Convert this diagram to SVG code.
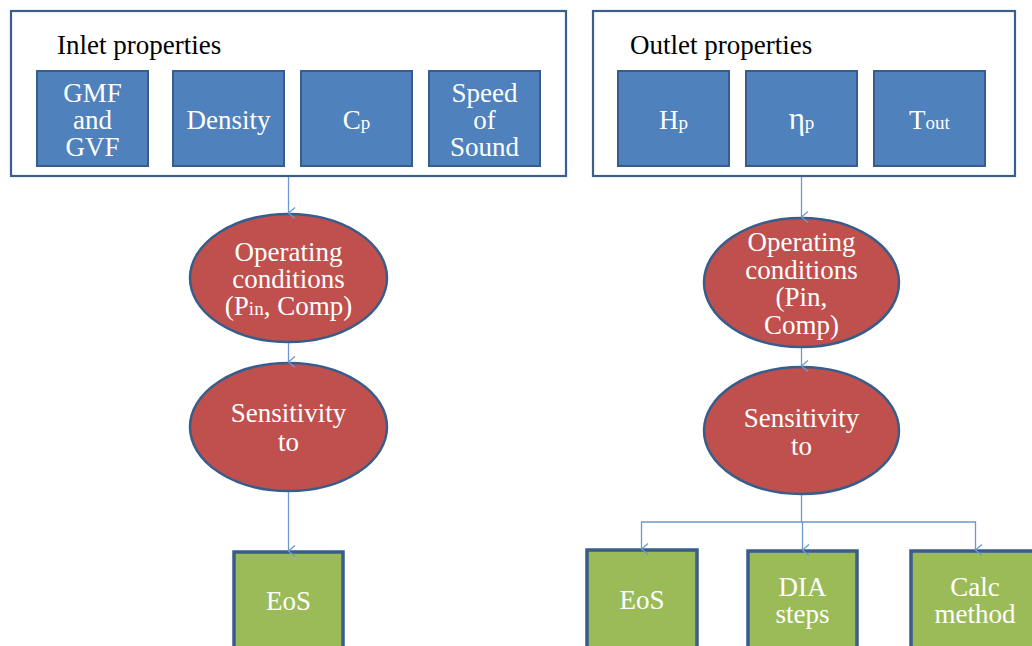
<svg xmlns="http://www.w3.org/2000/svg" width="1032" height="646" viewBox="0 0 1032 646">
<defs>
<marker id="arr" markerWidth="12" markerHeight="12" refX="6" refY="10" orient="auto" markerUnits="userSpaceOnUse" viewBox="0 0 12 12">
<polyline points="0.5,3.5 6,10 11.5,3.5" fill="none" stroke="#6E98CF" stroke-width="1.3"/>
</marker>
<style>
.cont{fill:#fff;stroke:#3A5F8D;stroke-width:2.2}
.blue{fill:#4F81BD;stroke:#385D8A;stroke-width:2}
.red{fill:#C0504D;stroke:#385D8A;stroke-width:2.5}
.green{fill:#9BBB59;stroke:#385D8A;stroke-width:3.5}
text{font-family:'Liberation Serif','Times New Roman',Tinos,'DejaVu Serif',serif}
.t{font-size:27px;fill:#fff;text-anchor:middle}
.h{font-size:27px;fill:#000}
.sub{font-size:19px}
.c{fill:none;stroke:#6E98CF;stroke-width:1.3}
</style>
</defs>
<rect width="1032" height="646" fill="#fff"/>

<g id="inlet">
<rect class="cont" x="11" y="11" width="555" height="165"/>
<text class="h" x="57" y="54">Inlet properties</text>
</g>
<g id="gmf"><rect class="blue" x="37" y="71" width="111" height="95"/>
<text class="t" x="92.5" y="102">GMF</text><text class="t" x="92.5" y="129">and</text><text class="t" x="92.5" y="156">GVF</text></g>
<g id="density"><rect class="blue" x="173" y="71" width="111" height="95"/>
<text class="t" x="228.5" y="129">Density</text></g>
<g id="cp"><rect class="blue" x="301" y="71" width="111" height="95"/>
<text class="t" x="356.5" y="129">C<tspan class="sub">p</tspan></text></g>
<g id="sos"><rect class="blue" x="429" y="71" width="111" height="95"/>
<text class="t" x="484.5" y="102">Speed</text><text class="t" x="484.5" y="129">of</text><text class="t" x="484.5" y="156">Sound</text></g>

<g id="outlet">
<rect class="cont" x="593" y="11" width="422" height="165"/>
<text class="h" x="630" y="54">Outlet properties</text>
</g>
<g id="hp"><rect class="blue" x="618" y="71" width="111" height="95"/>
<text class="t" x="673.5" y="129">H<tspan class="sub">p</tspan></text></g>
<g id="etap"><rect class="blue" x="746" y="71" width="111" height="95"/>
<text class="t" x="801.5" y="129"><tspan font-size="31">η</tspan><tspan class="sub">p</tspan></text></g>
<g id="tout"><rect class="blue" x="874" y="71" width="111" height="95"/>
<text class="t" x="929.5" y="129">T<tspan class="sub">out</tspan></text></g>

<g id="op1"><ellipse class="red" cx="288.5" cy="278" rx="98.5" ry="64"/>
<text class="t" x="288.5" y="261">Operating</text><text class="t" x="288.5" y="288">conditions</text><text class="t" x="288.5" y="315">(P<tspan class="sub">in</tspan>, Comp)</text></g>
<g id="sens1"><ellipse class="red" cx="288.5" cy="427" rx="98.5" ry="64"/>
<text class="t" x="288.5" y="422">Sensitivity</text><text class="t" x="288.5" y="451">to</text></g>
<g id="eos1"><rect class="green" x="234" y="552" width="109" height="100"/>
<text class="t" x="288.5" y="610">EoS</text></g>

<g id="op2"><ellipse class="red" cx="801.5" cy="282.5" rx="97.5" ry="64.5"/>
<text class="t" x="801.5" y="251">Operating</text><text class="t" x="801.5" y="279">conditions</text><text class="t" x="801.5" y="306">(Pin,</text><text class="t" x="801.5" y="334">Comp)</text></g>
<g id="sens2"><ellipse class="red" cx="801.5" cy="430.5" rx="97.5" ry="63.5"/>
<text class="t" x="801.5" y="427">Sensitivity</text><text class="t" x="801.5" y="455">to</text></g>
<g id="eos2"><rect class="green" x="587" y="550" width="110" height="100"/>
<text class="t" x="642" y="609">EoS</text></g>
<g id="dia"><rect class="green" x="748" y="551" width="109" height="100"/>
<text class="t" x="802.5" y="596">DIA</text><text class="t" x="802.5" y="623">steps</text></g>
<g id="calc"><rect class="green" x="911" y="551" width="130" height="100"/>
<text class="t" x="975" y="596">Calc</text><text class="t" x="975" y="623">method</text></g>

<g id="connectors">
<line class="c" x1="288.5" y1="177" x2="288.5" y2="213" marker-end="url(#arr)"/>
<line class="c" x1="288.5" y1="343" x2="288.5" y2="362" marker-end="url(#arr)"/>
<line class="c" x1="288.5" y1="492" x2="288.5" y2="551" marker-end="url(#arr)"/>
<line class="c" x1="801.5" y1="177" x2="801.5" y2="217" marker-end="url(#arr)"/>
<line class="c" x1="801.5" y1="348" x2="801.5" y2="366" marker-end="url(#arr)"/>
<polyline class="c" points="801.5,495 801.5,522"/>
<polyline class="c" points="801.5,522 641.5,522 641.5,549" marker-end="url(#arr)"/>
<polyline class="c" points="801.5,522 802.5,522 802.5,550" marker-end="url(#arr)"/>
<polyline class="c" points="801.5,522 975.5,522 975.5,550" marker-end="url(#arr)"/>
</g>
</svg>
